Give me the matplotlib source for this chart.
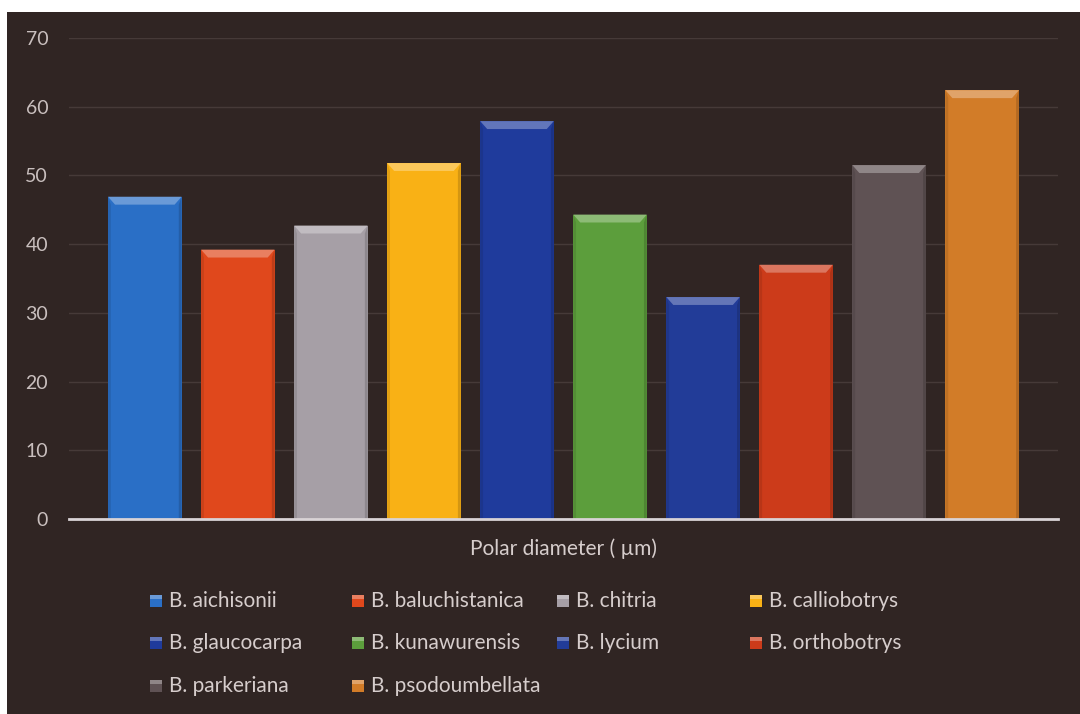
import matplotlib.pyplot as plt
from matplotlib.patches import Rectangle, Polygon
from matplotlib.colors import to_rgb

plt.rcParams['font.family'] = ['Lato', 'DejaVu Sans']

species = ['B. aichisonii', 'B. baluchistanica', 'B. chitria', 'B. calliobotrys',
           'B. glaucocarpa', 'B. kunawurensis', 'B. lycium', 'B. orthobotrys',
           'B. parkeriana', 'B. psodoumbellata']
polar_diameter = [46.9, 39.2, 42.7, 51.8, 57.9, 44.3, 32.3, 37.0, 51.5, 62.4]
bar_colors = ['#2a6fc6', '#e0481c', '#a69fa6', '#f9b115', '#1f3b9c',
              '#5c9e3c', '#223c98', '#cc3b1a', '#5f5254', '#d27c28']
yticks = [0, 10, 20, 30, 40, 50, 60, 70]

bg = '#302523'
txt = '#d6cdcc'

W, H = 1080, 714
fig = plt.figure(figsize=(W / 100, H / 100), dpi=100, facecolor='white')
fig.patches.append(Rectangle((7 / W, 0), 1, (H - 12) / H, transform=fig.transFigure,
                             facecolor=bg, edgecolor='none', zorder=-10))

ax = fig.add_axes([69 / W, 1 - 519 / H, 989 / W, (519 - 38) / H])
ax.set_facecolor('none')

def lighten(c, f):
    r, g, b = to_rgb(c)
    return (r + (1 - r) * f, g + (1 - g) * f, b + (1 - b) * f)

def darken(c, f):
    r, g, b = to_rgb(c)
    return (r * (1 - f), g * (1 - f), b * (1 - f))

x = list(range(len(species)))
width = 0.79
ax.bar(x, polar_diameter, width=width, color=bar_colors, zorder=3)

# bevelled look on each bar: lit top face and slightly shaded sides
dx, dy = 0.075, 1.15
for xi, h, c in zip(x, polar_diameter, bar_colors):
    l, r = xi - width / 2, xi + width / 2
    ax.add_patch(Polygon([(l, h), (r, h), (r - dx, h - dy), (l + dx, h - dy)],
                         closed=True, facecolor=lighten(c, 0.3), edgecolor='none', zorder=4))
    ax.add_patch(Polygon([(l, h), (l + dx * 0.4, h - dy), (l + dx * 0.4, 0), (l, 0)],
                         closed=True, facecolor=darken(c, 0.1), edgecolor='none', zorder=4))
    ax.add_patch(Polygon([(r, h), (r - dx * 0.4, h - dy), (r - dx * 0.4, 0), (r, 0)],
                         closed=True, facecolor=darken(c, 0.15), edgecolor='none', zorder=4))

ax.set_xlim(-0.815, len(species) - 1 + 0.815)
ax.set_ylim(0, 70)
ax.set_yticks(yticks)
ax.set_xticks([])
ax.tick_params(axis='y', length=0, pad=15, labelsize=14, labelcolor='#c9bfbe')
ax.yaxis.grid(True, color='#463a38', linewidth=1.0, zorder=0)
for s in ['top', 'right', 'left']:
    ax.spines[s].set_visible(False)
ax.spines['bottom'].set_color('#d9d3d6')
ax.spines['bottom'].set_linewidth(2)
ax.spines['bottom'].set_zorder(5)

fig.text(563 / W, 1 - 549 / H, 'Polar diameter ( µm)', ha='center', va='center',
         fontsize=15, color=txt)

# legend laid out in rows of four
col_x = [150, 352, 557, 750]
row_y = [601, 643, 686]
for i, (name, c) in enumerate(zip(species, bar_colors)):
    px, py = col_x[i % 4], row_y[i // 4]
    fig.patches.append(Rectangle((px / W, 1 - (py + 6) / H), 12 / W, 12 / H,
                                 transform=fig.transFigure, facecolor=c, edgecolor='none'))
    fig.patches.append(Rectangle((px / W, 1 - (py - 2) / H), 12 / W, 4 / H,
                                 transform=fig.transFigure, facecolor=lighten(c, 0.3),
                                 edgecolor='none'))
    fig.text((px + 19) / W, 1 - py / H, name, ha='left', va='center',
             fontsize=15, color=txt)

fig.savefig('out.png', dpi=100, facecolor='white')
